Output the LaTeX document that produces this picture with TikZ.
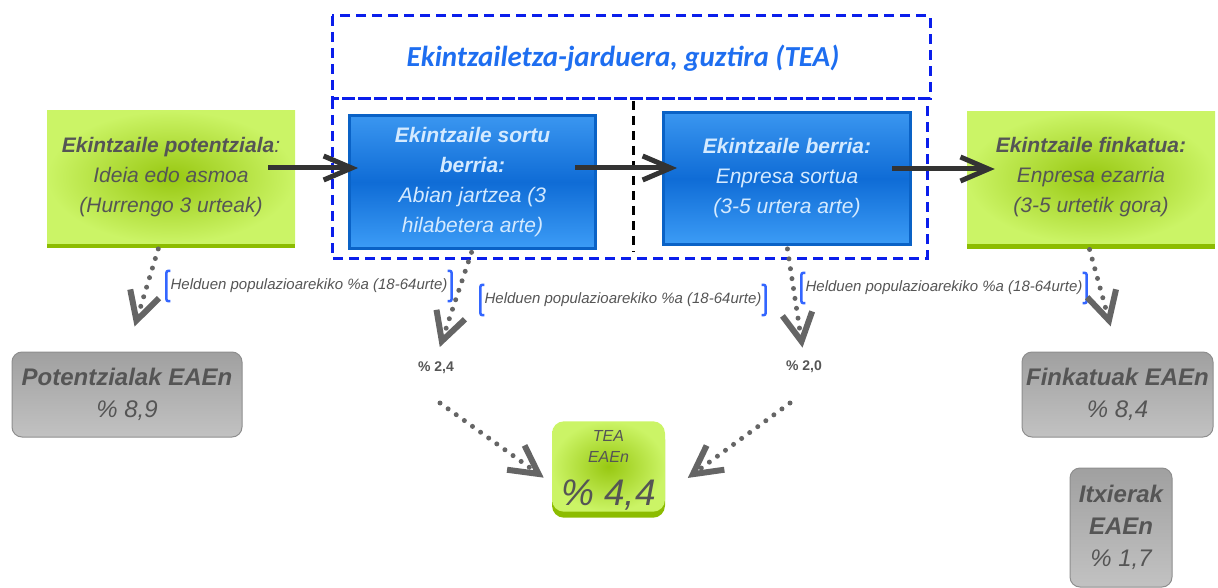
\documentclass[tikz,border=0pt]{standalone}
\usepackage{fontspec}
\setmainfont{Liberation Sans}
\newfontfamily\titlefont{Carlito}
\usetikzlibrary{arrows.meta}
\usetikzlibrary{shadows}
\definecolor{mblue}{HTML}{1E6EF0}
\definecolor{mdash}{HTML}{0A1EEB}
\definecolor{mbrk}{HTML}{3366FF}
\definecolor{mgreenin}{HTML}{98C812}
\definecolor{mgreenout}{HTML}{CBF466}
\definecolor{mgreenedge}{HTML}{8CBC00}
\definecolor{mboxtop}{HTML}{3A96F0}
\definecolor{mboxmid}{HTML}{0F6CD6}
\definecolor{mboxbot}{HTML}{3C9CF6}
\definecolor{mboxline}{HTML}{0A62C6}
\definecolor{mboxtext}{HTML}{D4EAFF}
\definecolor{mgreytop}{HTML}{A0A0A0}
\definecolor{mgreybot}{HTML}{C2C2C2}
\definecolor{mgreyline}{HTML}{8E8E8E}
\definecolor{mtext}{HTML}{555555}
\definecolor{mdots}{HTML}{656565}
\definecolor{marrow}{HTML}{333333}
\tikzset{greenbox/.style = {rectangle, shading=radial, inner color=mgreenin, outer color=mgreenout,
                            general shadow={fill=mgreenedge, shadow yshift=-5pt},
                            text=mtext, align=center, inner sep=2pt,
                            minimum width=248pt, minimum height=132pt,
                            font=\fontsize{21}{30}\selectfont\itshape},
         bluebox/.style = {rectangle, draw=mboxline, line width=3pt, top color=mboxtop, bottom color=mboxbot,
                           middle color=mboxmid, text=mboxtext, align=center, inner sep=2pt,
                           minimum height=132pt, font=\fontsize{21}{30}\selectfont\itshape},
         greybox/.style = {rectangle, rounded corners=10pt, draw=mgreyline, line width=1pt,
                           top color=mgreytop, bottom color=mgreybot, text=mtext, align=center, inner sep=2pt,
                           font=\fontsize{24}{32}\selectfont\itshape},
         teabox/.style = {rectangle, rounded corners=12pt, shading=radial, inner color=mgreenin, outer color=mgreenout,
                          general shadow={fill=mgreenedge, shadow yshift=-6pt},
                          text=mtext, align=center, inner sep=1pt,
                          minimum width=113pt, minimum height=87pt,
                          font=\fontsize{16}{21}\selectfont\itshape},
         tealine/.style = {draw=mdash, line width=3pt, dash pattern=on 10pt off 6pt},
         helduen/.style = {text=mtext, inner xsep=4pt, minimum height=30pt,
                           font=\fontsize{15}{15}\selectfont\itshape},
         brk/.style = {draw=mbrk, line width=2.5pt, rounded corners=2pt},
         pct/.style = {text=mtext, font=\fontsize{14}{14}\selectfont\bfseries},
         blackarrow/.style = {draw=marrow, line width=5pt, -{Straight Barb[length=28pt, width=24pt]}},
         dotarrow/.style = {draw=mdots, line width=5pt, line cap=round, dash pattern=on 0pt off 10pt,
                            -{Straight Barb[length=28pt, width=30pt, line width=6pt]}}}
\begin{document}
\begin{tikzpicture}[x=1pt, y=-1pt]
    \useasboundingbox (0, 0) rectangle (1218, 588);

    \draw [tealine] (332, 16) rectangle (930, 99);
    \draw [tealine] (332, 99) rectangle (927, 258);
    \draw [black, line width=3pt, dash pattern=on 9pt off 6pt] (633, 101) -- (633, 252);
    \node [text=mblue, font=\titlefont\fontsize{29}{29}\selectfont\bfseries\itshape] (teatitle) at (623, 58)
      {Ekintzailetza-jarduera, guztira (TEA)};

    \node [greenbox] (potentziala) at (171, 177) {\textbf{Ekintzaile potentziala}:\\Ideia edo asmoa\\(Hurrengo 3 urteak)};
    \node [bluebox, minimum width=246pt] (sortu) at (472.5, 182) {\textbf{Ekintzaile sortu}\\\textbf{berria:}\\Abian jartzea (3\\hilabetera arte)};
    \node [bluebox, minimum width=247pt] (berria) at (787, 178.5) {\textbf{Ekintzaile berria:}\\Enpresa sortua\\(3-5 urtera arte)};
    \node [greenbox] (finkatua) at (1091, 177.5) {\textbf{Ekintzaile finkatua:}\\Enpresa ezarria\\(3-5 urtetik gora)};

    \node [greybox, minimum width=230pt, minimum height=85pt] (potentzialak) at (127, 394.5) {\textbf{Potentzialak EAEn}\\\% 8,9};
    \node [greybox, minimum width=191pt, minimum height=85pt] (finkatuak) at (1117.5, 394.5) {\textbf{Finkatuak EAEn}\\\% 8,4};
    \node [greybox, minimum width=102pt, minimum height=119pt] (itxierak) at (1121, 527.5) {\textbf{Itxierak}\\\textbf{EAEn}\\\% 1,7};
    \node [teabox] (tea) at (608.5, 466.5)
      {\rule{0pt}{19pt}TEA\\EAEn\\[17pt]{\fontsize{37}{37}\selectfont\% 4,4}};

    \node [helduen] (h1) at (309, 286) {Helduen populazioarekiko \%a (18-64urte)};
    \node [helduen] (h2) at (623, 300) {Helduen populazioarekiko \%a (18-64urte)};
    \node [helduen] (h3) at (944, 288) {Helduen populazioarekiko \%a (18-64urte)};
    \foreach \h in {h1, h2, h3} {
      \draw [brk] ([xshift=4pt]\h.north west) -| (\h.south west) -- ([xshift=4pt]\h.south west);
      \draw [brk] ([xshift=-4pt]\h.north east) -| (\h.south east) -- ([xshift=-4pt]\h.south east);
    }
    \node [pct] (p1) at (436, 368) {\% 2,4};
    \node [pct] (p2) at (804, 367) {\% 2,0};
    \coordinate (s1) at (440, 403);
    \coordinate (s2) at (790, 403);

    \draw [blackarrow] ([xshift=-27pt, yshift=9pt]potentziala.east) -- ([xshift=10pt, yshift=14pt]sortu.west);
    \draw [blackarrow] ([xshift=-22pt, yshift=14pt]sortu.east) -- ([xshift=15pt, yshift=10.5pt]berria.west);
    \draw [blackarrow] ([xshift=-20pt, yshift=9.5pt]berria.east) -- ([xshift=28pt, yshift=8.5pt]finkatua.west);

    \draw [dotarrow, shorten <=6pt, shorten >=26pt] ([xshift=-11pt]potentziala.south) -- (potentzialak.north);
    \draw [dotarrow, shorten <=3pt, shorten >=12pt] (sortu.south) -- (p1.north);
    \draw [dotarrow, shorten <=3pt, shorten >=10pt] (berria.south) -- (p2.north);
    \draw [dotarrow, shorten <=6pt, shorten >=26pt] ([xshift=-3pt]finkatua.south) -- (finkatuak.north);
    \draw [dotarrow, shorten >=10pt] (s1) -- ([yshift=-17pt]tea.west);
    \draw [dotarrow, shorten >=28pt] (s2) -- ([yshift=-28pt]tea.east);
\end{tikzpicture}
\end{document}
